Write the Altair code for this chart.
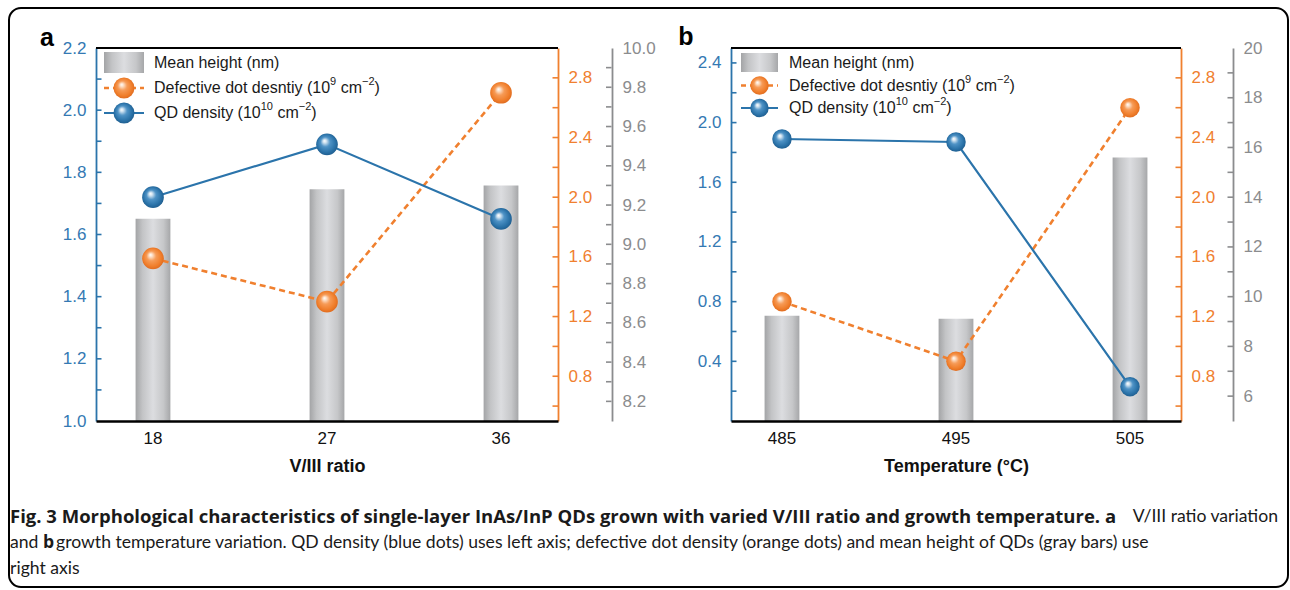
import altair as alt
import pandas as pd

# ---------------- data ----------------
vratio = ["18", "27", "36"]
temps = ["485", "495", "505"]

qd_a = [1.72, 1.89, 1.65]        # QD density (1e10 cm-2), left axis
def_a = [1.59, 1.30, 2.70]       # defective dot density (1e9 cm-2)
height_a = [9.13, 9.28, 9.30]    # mean height (nm)

qd_b = [1.89, 1.87, 0.23]
def_b = [1.30, 0.90, 2.60]
height_b = [9.23, 9.11, 15.6]

# legend labels as (text, is_superscript) segments
legend_labels = [
    [("Mean height (nm)", False)],
    [("Defective dot desntiy (10", False), ("9", True), (" cm", False), ("\u22122", True), (")", False)],
    [("QD density (10", False), ("10", True), (" cm", False), ("\u22122", True), (")", False)],
]

blue_a_labels = [1.0, 1.2, 1.4, 1.6, 1.8, 2.0, 2.2]
blue_a_ticks = [1.1, 1.2, 1.3, 1.4, 1.5, 1.6, 1.7, 1.8, 1.9, 2.0, 2.1]
orange_labels = [0.8, 1.2, 1.6, 2.0, 2.4, 2.8]
orange_ticks = [0.6, 0.8, 1.0, 1.2, 1.4, 1.6, 1.8, 2.0, 2.2, 2.4, 2.6, 2.8]
gray_a_labels = [8.2, 8.4, 8.6, 8.8, 9.0, 9.2, 9.4, 9.6, 9.8, 10.0]
gray_a_ticks = [8.2, 8.3, 8.4, 8.5, 8.6, 8.7, 8.8, 8.9, 9.0, 9.1, 9.2, 9.3, 9.4, 9.5, 9.6, 9.7, 9.8, 9.9]
blue_b_labels = [0.4, 0.8, 1.2, 1.6, 2.0, 2.4]
blue_b_ticks = [0.2, 0.4, 0.6, 0.8, 1.0, 1.2, 1.4, 1.6, 1.8, 2.0, 2.2, 2.4]
gray_b_labels = [6, 8, 10, 12, 14, 16, 18, 20]
gray_b_ticks = [6, 7, 8, 9, 10, 11, 12, 13, 14, 15, 16, 17, 18, 19]

caption_bold_1 = "Fig. 3 Morphological characteristics of single-layer InAs/InP QDs grown with varied V/III ratio and growth temperature. a"
caption_reg_1 = "V/III ratio variation"
caption_2a = "and"
caption_2b = "b"
caption_2c = "growth temperature variation. QD density (blue dots) uses left axis; defective dot density (orange dots) and mean height of QDs (gray bars) use"
caption_3 = "right axis"

# ---------------- style ----------------
W, H = 1085, 373
FONT = "Liberation Sans"
CAP_FONT = "Lato"
CAP_BOLD_FONT = "Open Sans"
BLUE = "#2b74ab"
BLUE_TXT = "#3479b3"
ORANGE = "#f0802f"
GRAY = "#8b8c8e"

# Arial / Liberation Sans advance widths (per 1000 em) for legend text layout
ARIAL_W = {" ": 278, "(": 333, ")": 333, "D": 722, "Q": 778, "M": 833, "a": 556, "c": 500, "d": 556,
           "e": 556, "f": 278, "g": 556, "h": 556, "i": 222, "l": 222, "m": 833, "n": 556, "o": 556,
           "s": 500, "t": 278, "v": 500, "y": 500, "\u2212": 584}


def text_width(s, size):
    return sum(ARIAL_W.get(ch, 556) for ch in s) * size / 1000.0


bar_grad = {"gradient": "linear", "x1": 0, "x2": 1, "y1": 0, "y2": 0,
            "stops": [{"offset": 0, "color": "#a3a4a6"}, {"offset": 0.2, "color": "#c3c4c6"},
                      {"offset": 0.5, "color": "#dcdde0"}, {"offset": 0.8, "color": "#c6c7c9"},
                      {"offset": 1, "color": "#a6a7a9"}]}


def ball(c1, c2, c3, c4):
    return {"gradient": "radial", "x1": 0.38, "y1": 0.33, "r1": 0, "x2": 0.5, "y2": 0.5, "r2": 0.58,
            "stops": [{"offset": 0, "color": "#ffffff"}, {"offset": 0.13, "color": c1},
                      {"offset": 0.38, "color": c2}, {"offset": 0.72, "color": c3},
                      {"offset": 1, "color": c4}]}


blue_grad = ball("#d6e6f2", "#4f93c6", "#2a72a8", "#1b5482")
orange_grad = ball("#fde2cc", "#f69b57", "#f07e2b", "#d6621a")

one = pd.DataFrame({"k": [0]})


def yscale(dom):
    return alt.Scale(domain=dom, nice=False, zero=False)


def yaxis(orient, offset, color, lblcolor, values, fmt):
    return alt.Axis(orient=orient, offset=offset, values=values, format=fmt, ticks=False, grid=False,
                    domainColor=color, domainWidth=1.8, labelColor=lblcolor, labelFont=FONT,
                    labelFontSize=17, labelPadding=10, title=None)


def xaxis(title):
    return alt.Axis(orient="bottom", ticks=False, grid=False, domainColor="black", domainWidth=2.6,
                    labelColor="#111", labelFont=FONT, labelFontSize=17, labelPadding=9, labelAngle=0,
                    title=title, titleFont=FONT, titleFontSize=18, titleFontWeight="bold",
                    titleColor="#111", titlePadding=11, zindex=1)


def tick_layer(values, dom, x0, x1, color):
    return alt.Chart(pd.DataFrame({"v": values})).mark_rule(color=color, strokeWidth=1.6).encode(
        y=alt.Y("v:Q", scale=yscale(dom), axis=None),
        x=alt.value(x0), x2=alt.value(x1))


def text(s, x, y, size=16, weight="normal", font=FONT, align="left", color="#1a1a1a"):
    return alt.Chart(one).mark_text(align=align, baseline="middle", font=font, fontSize=size,
                                    fontWeight=weight, color=color).encode(
        x=alt.value(x), y=alt.value(y), text=alt.value(s))


def seg_text(segments, x, y, size=16, sup_size=11):
    out = []
    cx = x
    for s, sup in segments:
        sz = sup_size if sup else size
        yy = y - 6 if sup else y
        lead = len(s) - len(s.lstrip(" "))
        cx += text_width(" " * lead, sz)
        body = s.lstrip(" ")
        out.append(text(body, cx, yy, size=sz))
        cx += text_width(body, sz)
    return out


def panel(cats, xrange, pad_outer, qd, de, hm, blue_dom, gray_dom, blue_ax, orange_ax, gray_ax,
          title, ball_size):
    df = pd.DataFrame({"cat": cats, "qd": qd, "de": de, "hm": hm, "base": [gray_dom[0]] * len(cats)})

    def xs():
        return alt.Scale(type="band", domain=cats, range=xrange, paddingInner=0.8, paddingOuter=pad_outer)

    xa = alt.X("cat:N", scale=xs(), axis=None)
    bars = alt.Chart(df).mark_bar(fill=bar_grad, strokeWidth=0).encode(
        x=alt.X("cat:N", scale=xs(), axis=xaxis(title)),
        y=alt.Y("hm:Q", scale=yscale(gray_dom), axis=gray_ax),
        y2=alt.Y2("base:Q"))
    oline = alt.Chart(df).mark_line(color=ORANGE, strokeDash=[6, 4], strokeWidth=2.6).encode(
        x=xa, y=alt.Y("de:Q", scale=yscale([0.5, 3.0]), axis=orange_ax))
    opts = alt.Chart(df).mark_point(shape="circle", filled=True, fill=orange_grad, size=ball_size,
                                    opacity=1, strokeWidth=0).encode(
        x=xa, y=alt.Y("de:Q", scale=yscale([0.5, 3.0]), axis=None))
    bline = alt.Chart(df).mark_line(color=BLUE, strokeWidth=2.2).encode(
        x=xa, y=alt.Y("qd:Q", scale=yscale(blue_dom), axis=blue_ax))
    bpts = alt.Chart(df).mark_point(shape="circle", filled=True, fill=blue_grad, size=ball_size,
                                    opacity=1, strokeWidth=0).encode(
        x=xa, y=alt.Y("qd:Q", scale=yscale(blue_dom), axis=None))
    return [bars, oline, bline, opts, bpts]


def legend(x0, sw_w, rows, sw_top, sw_bot, text_x, ball_size):
    cx = x0 + sw_w / 2
    out = [
        alt.Chart(one).mark_rect(fill=bar_grad).encode(
            x=alt.value(x0), x2=alt.value(x0 + sw_w), y=alt.value(sw_top), y2=alt.value(sw_bot)),
        alt.Chart(one).mark_rule(color=ORANGE, strokeDash=[5, 4], strokeWidth=2.4).encode(
            x=alt.value(x0), x2=alt.value(x0 + sw_w), y=alt.value(rows[1])),
        alt.Chart(one).mark_point(shape="circle", filled=True, fill=orange_grad, size=ball_size,
                                  opacity=1, strokeWidth=0).encode(x=alt.value(cx), y=alt.value(rows[1])),
        alt.Chart(one).mark_rule(color=BLUE, strokeWidth=2.2).encode(
            x=alt.value(x0), x2=alt.value(x0 + sw_w), y=alt.value(rows[2])),
        alt.Chart(one).mark_point(shape="circle", filled=True, fill=blue_grad, size=ball_size,
                                  opacity=1, strokeWidth=0).encode(x=alt.value(cx), y=alt.value(rows[2])),
    ]
    for segs, ry in zip(legend_labels, rows):
        out += seg_text(segs, text_x, ry)
    return out


layers = []

# panel a
layers += panel(vratio, [0, 462], 0.2275, qd_a, def_a, height_a, [1.0, 2.2], [8.1, 10.0],
                yaxis("left", 0, BLUE, BLUE_TXT, blue_a_labels, ".1f"),
                yaxis("right", -623, ORANGE, ORANGE, orange_labels, ".1f"),
                yaxis("right", -569, GRAY, GRAY, gray_a_labels, ".1f"),
                "V/III ratio", 470)
# panel b
layers += panel(temps, [635, 1085], 0.193, qd_b, def_b, height_b, [0.0, 2.5], [5, 20],
                yaxis("left", -635, BLUE, BLUE_TXT, blue_b_labels, ".1f"),
                yaxis("right", 0, ORANGE, ORANGE, orange_labels, ".1f"),
                yaxis("right", 52, GRAY, GRAY, gray_b_labels, "d"),
                "Temperature (\u00b0C)", 380)

# inward ticks
layers += [
    tick_layer(blue_a_ticks, [1.0, 2.2], 0, 5.5, BLUE),
    tick_layer(orange_ticks, [0.5, 3.0], 462, 456.5, ORANGE),
    tick_layer(gray_a_ticks, [8.1, 10.0], 515.5, 510, GRAY),
    tick_layer(blue_b_ticks, [0.0, 2.5], 635, 640.5, BLUE),
    tick_layer(orange_ticks, [0.5, 3.0], 1085, 1079.5, ORANGE),
    tick_layer(gray_b_ticks, [5, 20], 1137, 1131.5, GRAY),
]

# top frame lines
layers += [
    alt.Chart(one).mark_rule(color="black", strokeWidth=2).encode(x=alt.value(0), x2=alt.value(462), y=alt.value(0)),
    alt.Chart(one).mark_rule(color="black", strokeWidth=2).encode(x=alt.value(635), x2=alt.value(1085), y=alt.value(0)),
]

# legends
layers += legend(8, 40, [15, 40, 65], 4, 25, 58, 440)
layers += legend(645, 37, [15, 37.5, 60], 5, 24, 693, 340)

# panel letters
layers += [
    text("a", -49, -10, size=25, weight="bold", align="center", color="black"),
    text("b", 590, -11, size=25, weight="bold", align="center", color="black"),
]

# caption
layers += [
    text(caption_bold_1, -86, 469, size=18.5, weight="bold", font=CAP_BOLD_FONT),
    text(caption_reg_1, 1182, 469, size=17.6, font=CAP_FONT, align="right"),
    text(caption_2a, -86, 495, size=17.6, font=CAP_FONT),
    text(caption_2b, -53, 495, size=17.6, weight="bold", font=CAP_BOLD_FONT),
    text(caption_2c, -40, 495, size=17.6, font=CAP_FONT),
    text(caption_3, -86, 521, size=17.6, font=CAP_FONT),
]

# outer rounded border
layers += [
    alt.Chart(one).mark_rect(fillOpacity=0, stroke="black", strokeWidth=2, cornerRadius=12).encode(
        x=alt.value(-87), x2=alt.value(1192), y=alt.value(-40), y2=alt.value(539)),
]

chart = alt.layer(*layers).resolve_scale(x="independent", y="independent").properties(
    width=W, height=H,
    autosize=alt.AutoSizeParams(type="none"),
    padding={"left": 96, "top": 48, "right": 109, "bottom": 169},
    background="white",
).configure_view(stroke=None)

chart.save("out.html", embed_options={"renderer": "svg", "actions": False})
